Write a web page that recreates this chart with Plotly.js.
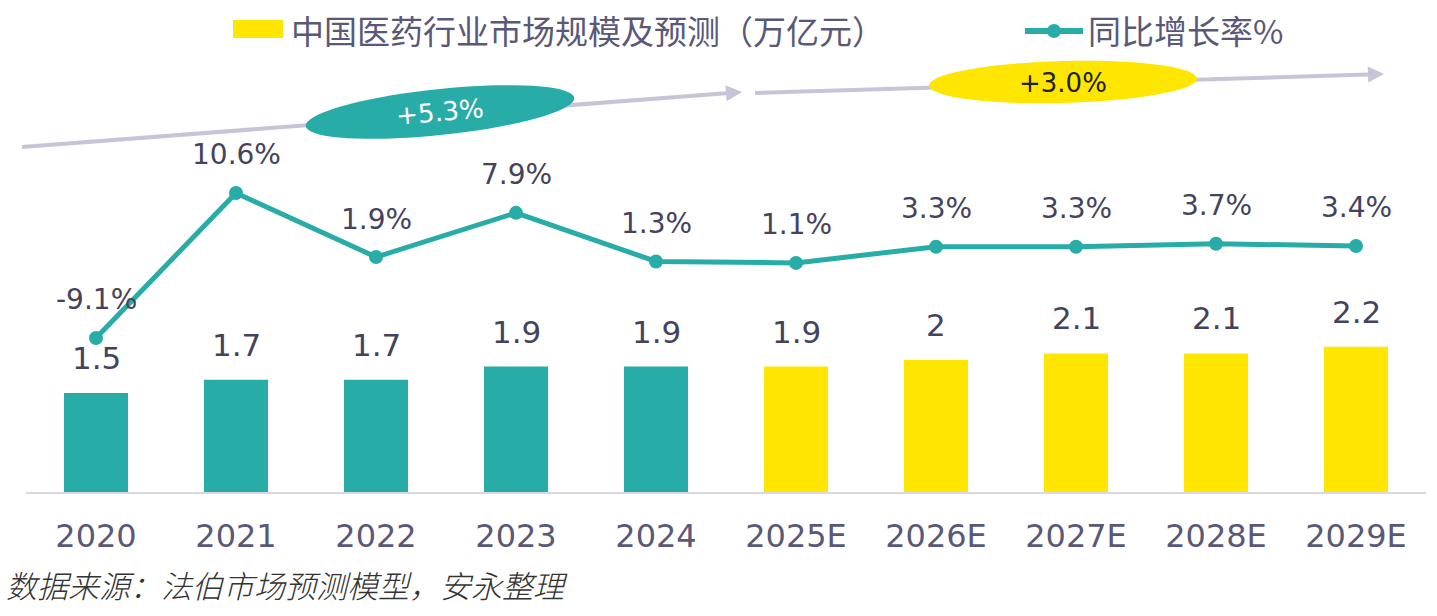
<!DOCTYPE html>
<html>
<head>
<meta charset="utf-8">
<script src="https://cdn.plot.ly/plotly-3.0.1.min.js"></script>
<style>html,body{margin:0;padding:0;background:#fff;}#chart{width:1437px;height:616px;}</style>
</head>
<body>
<div id="chart"></div>
<script>
const categories = ['2020','2021','2022','2023','2024','2025E','2026E','2027E','2028E','2029E'];
const marketSize = [1.5, 1.7, 1.7, 1.9, 1.9, 1.9, 2, 2.1, 2.1, 2.2];
const growthRate = [-9.1, 10.6, 1.9, 7.9, 1.3, 1.1, 3.3, 3.3, 3.7, 3.4];
const isForecast = [false,false,false,false,false,true,true,true,true,true];
const cagrLabels = ['+5.3%', '+3.0%'];
const legendLabels = ['中国医药行业市场规模及预测（万亿元）', '同比增长率%'];
const sourceText = '数据来源：法伯市场预测模型，安永整理';

const TEAL = '#28ACA7', YELLOW = '#FFE600', ARROW = '#C6C4D8';
const TXT = '#5A5878', LBL = '#44435E';
const W = 1437, H = 616, ML = 26, MR = 11, MT = 0, MB = 124;
const PW = W - ML - MR, PH = H - MT - MB;
const px = x => (x - ML) / PW;
const py = y => (H - MB - y) / PH;

function ellipsePath(cx, cy, a, b, deg) {
  const th = deg * Math.PI / 180;
  let d = '';
  for (let i = 0; i <= 72; i++) {
    const t = i / 72 * 2 * Math.PI;
    const x = cx + a * Math.cos(t) * Math.cos(th) - b * Math.sin(t) * Math.sin(th);
    const y = cy + a * Math.cos(t) * Math.sin(th) + b * Math.sin(t) * Math.cos(th);
    d += (i === 0 ? 'M' : 'L') + px(x).toFixed(5) + ',' + py(y).toFixed(5) + ' ';
  }
  return d + 'Z';
}
function arrowShapes(x0, y0, x1, y1) {
  const ang = Math.atan2(y1 - y0, x1 - x0);
  const L = 16, Wd = 8;
  const bx = x1 - L * Math.cos(ang), by = y1 - L * Math.sin(ang);
  const nx = -Math.sin(ang), ny = Math.cos(ang);
  return [
    {type:'line', xref:'paper', yref:'paper', x0:px(x0), y0:py(y0), x1:px(bx), y1:py(by), line:{color:ARROW, width:4}},
    {type:'path', xref:'paper', yref:'paper', fillcolor:ARROW, line:{width:0},
     path:`M${px(x1)},${py(y1)} L${px(bx+nx*Wd)},${py(by+ny*Wd)} L${px(bx-nx*Wd)},${py(by-ny*Wd)} Z`}
  ];
}

const shapes = [
  ...arrowShapes(22, 147, 742, 92),
  ...arrowShapes(755, 93, 1384, 74),
  {type:'path', xref:'paper', yref:'paper', path: ellipsePath(440, 112, 135, 23, -6), fillcolor: TEAL, line:{width:0}},
  {type:'path', xref:'paper', yref:'paper', path: ellipsePath(1063, 82, 134, 21, -1.5), fillcolor: YELLOW, line:{width:0}},
  // legend symbols
  {type:'rect', xref:'paper', yref:'paper', x0:px(233), x1:px(283), y0:py(20), y1:py(38), fillcolor:YELLOW, line:{width:0}},
  {type:'line', xref:'paper', yref:'paper', x0:px(1025), x1:px(1083), y0:py(31), y1:py(31), line:{color:TEAL, width:6}},
  {type:'circle', xref:'paper', yref:'paper', x0:px(1047), x1:px(1061), y0:py(24), y1:py(38), fillcolor:TEAL, line:{width:0}}
];

const annotations = [];
categories.forEach((c, i) => {
  annotations.push({x:i, y:marketSize[i], xref:'x', yref:'y', yshift:35, showarrow:false,
    xanchor:'center', yanchor:'middle',
    text:String(marketSize[i]), font:{family:'DejaVu Sans', size:31, color:LBL}});
  annotations.push({x:i, y:growthRate[i], xref:'x', yref:'y2', yshift:38, showarrow:false,
    xanchor:'center', yanchor:'middle',
    text:growthRate[i].toFixed(1) + '%', font:{family:'DejaVu Sans', size:28, color:LBL}});
});
annotations.push({x:px(440), y:py(112), xref:'paper', yref:'paper', showarrow:false, textangle:-5,
  xanchor:'center', yanchor:'middle',
  text:cagrLabels[0], font:{family:'DejaVu Sans', size:26, color:'#ffffff'}});
annotations.push({x:px(1063), y:py(83), xref:'paper', yref:'paper', showarrow:false,
  xanchor:'center', yanchor:'middle',
  text:cagrLabels[1], font:{family:'DejaVu Sans', size:26, color:'#222222'}});
annotations.push({x:px(289), y:py(30), xref:'paper', yref:'paper', xanchor:'left', yanchor:'middle', showarrow:false,
  text:legendLabels[0], font:{family:'Noto Sans CJK SC', size:33, color:TXT}});
annotations.push({x:px(1086), y:py(30), xref:'paper', yref:'paper', xanchor:'left', yanchor:'middle', showarrow:false,
  text:legendLabels[1], font:{family:'Noto Sans CJK SC', size:33, color:TXT}});
annotations.push({x:px(4), y:py(584), xref:'paper', yref:'paper', xanchor:'left', yanchor:'middle', showarrow:false,
  text:sourceText, font:{family:'Noto Sans CJK SC', size:31, color:'#333333', style:'italic', weight:300}});

const data = [
  {type:'bar', x:categories, y:marketSize, width:0.457,
   marker:{color: isForecast.map(f => f ? YELLOW : TEAL)}, hoverinfo:'skip', showlegend:false},
  {type:'scatter', mode:'lines+markers', x:categories, y:growthRate, yaxis:'y2',
   line:{color:TEAL, width:5}, marker:{color:TEAL, size:14}, hoverinfo:'skip', showlegend:false, cliponaxis:false}
];

const layout = {
  width:W, height:H, margin:{l:ML, r:MR, t:MT, b:MB},
  paper_bgcolor:'#ffffff', plot_bgcolor:'#ffffff', showlegend:false,
  xaxis:{type:'category', showgrid:false, zeroline:false, showline:true, linecolor:'#D9D8E2', linewidth:2,
    ticks:'outside', ticklen:15, tickcolor:'rgba(0,0,0,0)', tickfont:{family:'DejaVu Sans', size:32, color:TXT},
    range:[-0.5, 9.5]},
  yaxis:{range:[0, PH/66], visible:false, showgrid:false, zeroline:false},
  yaxis2:{range:[-221/7.36, 271/7.36], overlaying:'y', visible:false, showgrid:false, zeroline:false},
  shapes, annotations
};
Plotly.newPlot('chart', data, layout, {displayModeBar:false, staticPlot:true});
</script>
</body>
</html>
